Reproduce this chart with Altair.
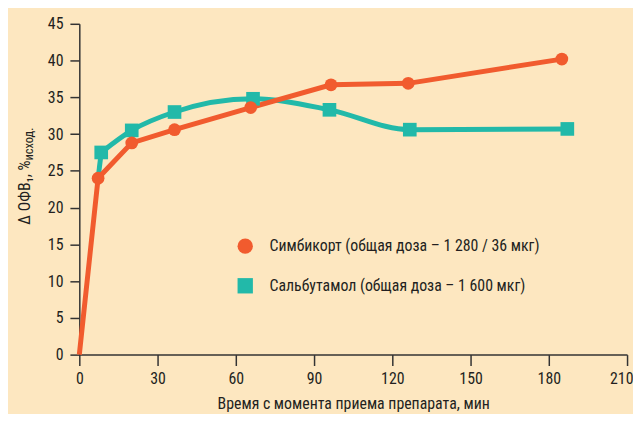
import altair as alt
import pandas as pd

sym_name = "Симбикорт (общая доза – 1 280 / 36 мкг)"
sal_name = "Сальбутамол (общая доза – 1 600 мкг)"

sym_t = [0, 7.2, 20.1, 36.5, 65.7, 96.5, 126.1, 185.0]
sym_v = [0, 24.0, 28.8, 30.6, 33.6, 36.7, 36.9, 40.2]
sym_marker = [False, True, True, True, True, True, True, True]

sal_t = [7.2, 8.4, 20.1, 36.5, 66.6, 95.9, 126.7, 187.1]
sal_v = [24.0, 27.5, 30.5, 33.0, 34.8, 33.3, 30.6, 30.7]
sal_marker = [False, True, True, True, True, True, True, True]
# first teal segment is straight, the rest is smoothed
sal_seg = ["a", "ab", "b", "b", "b", "b", "b", "b"]

y_title_main = "Δ ОФВ₁, %"
y_title_sub = "исход."
x_title = "Время с момента приема препарата, мин"
x_ticks = [0, 30, 60, 90, 120, 150, 180, 210]
y_ticks = list(range(0, 50, 5))

rows = []
for t, v, m in zip(sym_t, sym_v, sym_marker):
    rows.append({"t": t, "v": v, "s": sym_name, "m": m, "g": ""})
for t, v, m, g in zip(sal_t, sal_v, sal_marker, sal_seg):
    rows.append({"t": t, "v": v, "s": sal_name, "m": m, "g": g})
df = pd.DataFrame(rows)

ORANGE = "#F15B2E"
TEAL = "#22B9A9"
TXT = "#231f20"
FONT = "'Roboto Condensed', 'Liberation Sans Narrow', Roboto, sans-serif"

x_enc = alt.X("t:Q", scale=alt.Scale(domain=[0, 210], nice=False),
              axis=alt.Axis(values=x_ticks, title=x_title, titlePadding=9,
                            labelFlush=False, tickSize=11, labelPadding=5,
                            labelAlign=alt.ConditionalAxisLabelAlign(
                                condition={"test": "datum.value == 210", "value": "right"},
                                value="center"),
                            labelOffset=alt.ConditionalAxisNumber(
                                condition={"test": "datum.value == 210", "value": 6},
                                value=0)))
y_enc = alt.Y("v:Q", scale=alt.Scale(domain=[0, 45], nice=False),
              axis=alt.Axis(values=y_ticks, title=None, tickSize=9.5, labelPadding=7))

color_scale = alt.Scale(domain=[sym_name, sal_name], range=[ORANGE, TEAL])
shape_scale = alt.Scale(domain=[sym_name, sal_name], range=["circle", "square"])

base = alt.Chart(df)

sal_line_a = base.transform_filter(
    (alt.datum.s == sal_name) & ((alt.datum.g == "a") | (alt.datum.g == "ab"))
).mark_line(strokeWidth=5, color=TEAL).encode(x=x_enc, y=y_enc)

sal_line_b = base.transform_filter(
    (alt.datum.s == sal_name) & ((alt.datum.g == "b") | (alt.datum.g == "ab"))
).mark_line(strokeWidth=5, interpolate="monotone", color=TEAL).encode(x=x_enc, y=y_enc)

sym_line = base.transform_filter(alt.datum.s == sym_name).mark_line(
    strokeWidth=5, color=ORANGE
).encode(x=x_enc, y=y_enc)

leg = alt.Legend(title=None, orient="none", legendX=159, legendY=216, padding=0,
                 symbolSize=240, symbolOpacity=1, labelFontSize=16,
                 labelFont=FONT, labelColor=TXT, labelOffset=16,
                 rowPadding=17, labelLimit=400)

sal_pts = base.transform_filter((alt.datum.s == sal_name) & alt.datum.m).mark_point(
    filled=True, opacity=1, size=190
).encode(
    x=x_enc, y=y_enc,
    color=alt.Color("s:N", scale=color_scale, sort=[sym_name, sal_name], legend=leg),
    shape=alt.Shape("s:N", scale=shape_scale, sort=[sym_name, sal_name], legend=leg),
)

sym_pts = base.transform_filter((alt.datum.s == sym_name) & alt.datum.m).mark_point(
    filled=True, opacity=1, size=165
).encode(
    x=x_enc, y=y_enc,
    color=alt.Color("s:N", scale=color_scale, sort=[sym_name, sal_name], legend=leg),
    shape=alt.Shape("s:N", scale=shape_scale, sort=[sym_name, sal_name], legend=leg),
)

title_df = pd.DataFrame({"a": [y_title_main], "b": [y_title_sub]})
t_main = alt.Chart(title_df).mark_text(
    angle=270, align="right", baseline="middle", font=FONT, fontSize=16, color=TXT
).encode(text="a:N", x=alt.value(-55), y=alt.value(138))
t_sub = alt.Chart(title_df).mark_text(
    angle=270, align="left", baseline="middle", font=FONT, fontSize=12.5, color=TXT
).encode(text="b:N", x=alt.value(-51), y=alt.value(138))

chart = alt.layer(sal_line_a, sal_line_b, sym_line, sal_pts, sym_pts, t_main, t_sub).properties(
    width=553, height=334,
    background="#FDE7C0",
    padding={"left": 72, "top": 14, "right": 6, "bottom": 58},
    autosize=alt.AutoSizeParams(type="none"),
).configure_view(stroke=None).configure_axis(
    grid=False,
    domainColor="#333333",
    domainWidth=1.5,
    tickColor="#333333",
    tickWidth=1.5,
    labelFont=FONT,
    labelFontSize=16,
    labelColor=TXT,
    titleFont=FONT,
    titleFontSize=16,
    titleFontWeight="normal",
    titleColor=TXT,
)

chart.save("out.html", embed_options={"renderer": "svg", "actions": False})
